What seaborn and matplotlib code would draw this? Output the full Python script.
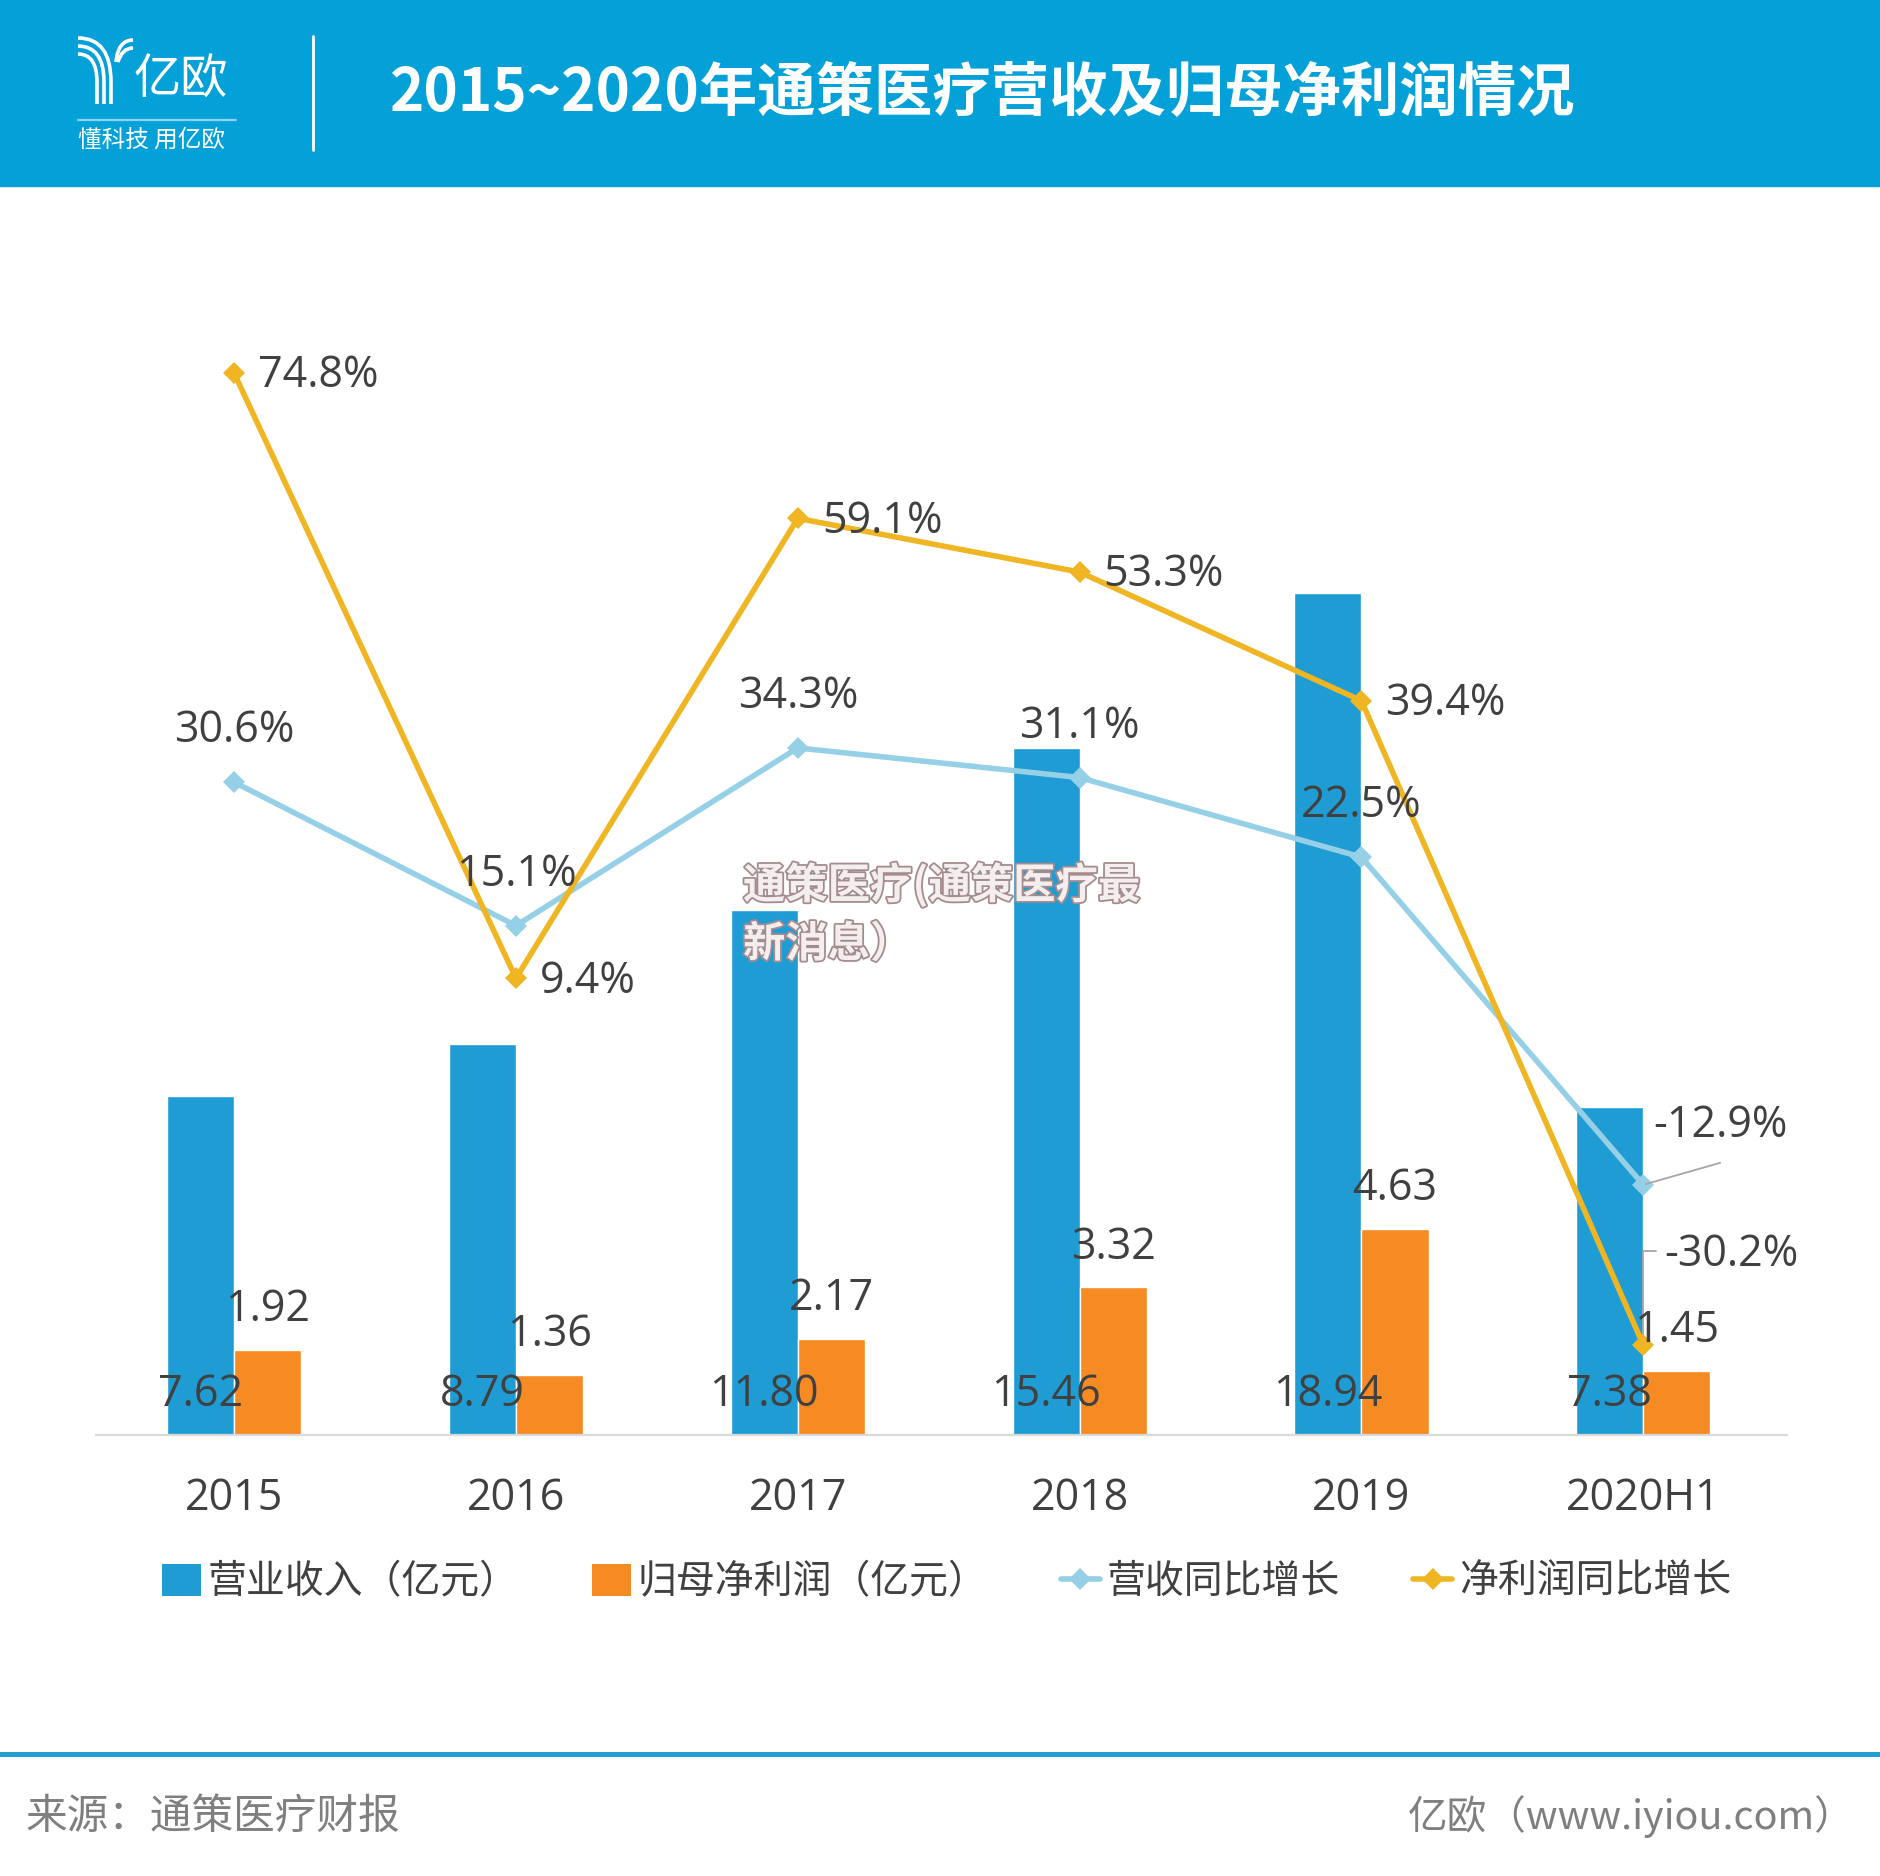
import numpy as np
import pandas as pd
import matplotlib
matplotlib.use('Agg')
import matplotlib.pyplot as plt
import seaborn as sns
from matplotlib.patches import Rectangle, Patch, PathPatch
from matplotlib.lines import Line2D
from matplotlib.path import Path
from matplotlib.transforms import Affine2D
import matplotlib.patheffects as pe

# ---------------- data ----------------
categories = ['2015', '2016', '2017', '2018', '2019', '2020H1']
revenue = [7.62, 8.79, 11.80, 15.46, 18.94, 7.38]
net_profit = [1.92, 1.36, 2.17, 3.32, 4.63, 1.45]
revenue_growth = [30.6, 15.1, 34.3, 31.1, 22.5, -12.9]
profit_growth = [74.8, 9.4, 59.1, 53.3, 39.4, -30.2]
series_names = ['营业收入（亿元）', '归母净利润（亿元）', '营收同比增长', '净利润同比增长']
title = '2015~2020年通策医疗营收及归母净利润情况'
source_text = '来源：通策医疗财报'
credit_text = '亿欧（www.iyiou.com）'
logo_name = '亿欧'
logo_slogan = '懂科技 用亿欧'
watermark_lines = ['通策医疗(通策医疗最', '新消息）']

# ---------------- style ----------------
C_REV = '#1F9CD4'
C_NP = '#F68B24'
C_RG = '#96D0E6'
C_PG = '#F0B522'
C_TXT = '#404040'
C_HEAD = '#04A0D8'

sns.set_style('white')
plt.rcParams['font.family'] = ['Open Sans', 'Noto Sans CJK SC', 'DejaVu Sans']
CJK = ['Noto Sans CJK SC', 'DejaVu Sans']

W, H = 1880, 1876
fig = plt.figure(figsize=(W / 100, H / 100), dpi=100)
fig.patch.set_facecolor('white')
pxT = Affine2D().scale(1 / W, -1 / H).translate(0, 1) + fig.transFigure

# ---------------- header ----------------
fig.patches.append(Rectangle((0, 0), W, 186, transform=pxT, color=C_HEAD, zorder=0))
# logo mark (stylised Y)
for k, xs in enumerate([97, 104, 111]):
    y0 = 54 - 8 * k
    verts = [(78, y0), (xs, y0), (xs, 82), (xs, 104)]
    codes = [Path.MOVETO, Path.CURVE3, Path.CURVE3, Path.LINETO]
    fig.patches.append(PathPatch(Path(verts, codes), transform=pxT, fill=False,
                                 edgecolor='white', lw=2.6, capstyle='butt'))
for k in range(2):
    y0 = 40 + 8 * k
    verts = [(133, y0), (118 + 4 * k, y0), (116 + 2 * k, 62)]
    codes = [Path.MOVETO, Path.CURVE3, Path.CURVE3]
    fig.patches.append(PathPatch(Path(verts, codes), transform=pxT, fill=False,
                                 edgecolor='white', lw=2.6, capstyle='butt'))
fig.text(134, 80, logo_name, transform=pxT, color='white', fontsize=34,
         family=CJK, ha='left', va='center')
fig.add_artist(Line2D([78, 236], [120, 120], transform=pxT, color='#8AD6F2', lw=1.6))
fig.text(78, 140, logo_slogan, transform=pxT, color='white', fontsize=17,
         family=CJK, ha='left', va='center')
fig.add_artist(Line2D([313, 313], [36, 150], transform=pxT, color='white', lw=2))
fig.text(390, 94, title, transform=pxT, color='white', fontsize=42,
         fontweight='bold', family=CJK, ha='left', va='center')

# ---------------- main chart ----------------
ax_left, ax_right, ax_top, ax_bottom = 96, 1787, 300, 1435
ax = fig.add_axes([ax_left / W, 1 - ax_bottom / H, (ax_right - ax_left) / W,
                   (ax_bottom - ax_top) / H])

df_bar = pd.DataFrame({
    'category': categories * 2,
    'value': revenue + net_profit,
    'series': [series_names[0]] * len(categories) + [series_names[1]] * len(categories),
})
sns.barplot(data=df_bar, x='category', y='value', hue='series',
            palette=[C_REV, C_NP], width=0.476, saturation=1,
            errorbar=None, legend=False, ax=ax, zorder=2)

XLIM = (-0.49, 5.51)
ax.set_xlim(*XLIM)
ax.set_ylim(0, (ax_bottom - ax_top) / 44.45)
ax.set_xlabel('')
ax.set_ylabel('')
ax.set_yticks([])
ax.tick_params(axis='x', length=0, pad=30, labelsize=31, colors=C_TXT)
for s in ['top', 'left', 'right']:
    ax.spines[s].set_visible(False)
ax.spines['bottom'].set_color('#D9D9D9')
ax.spines['bottom'].set_linewidth(1.6)

ax2 = ax.twinx()
zero_y = 1065.4
pct_px = 9.256
xpos = np.arange(len(categories))
sns.lineplot(x=xpos, y=revenue_growth, ax=ax2, color=C_RG, lw=4.0,
             marker='D', markersize=11, markeredgewidth=0, zorder=3)
sns.lineplot(x=xpos, y=profit_growth, ax=ax2, color=C_PG, lw=4.0,
             marker='D', markersize=11, markeredgewidth=0, zorder=4)
ax2.set_xlim(*XLIM)
ax2.set_ylim(-(ax_bottom - zero_y) / pct_px, (zero_y - ax_top) / pct_px)
ax2.set_yticks([])
ax2.set_ylabel('')
for s in ['top', 'left', 'right', 'bottom']:
    ax2.spines[s].set_visible(False)

LBL = dict(fontsize=31, color=C_TXT, textcoords='offset pixels', zorder=10)

# bar labels
for p, v in zip(ax.containers[0], revenue):
    x = p.get_x() + p.get_width() / 2
    ax2.annotate(f'{v:.2f}', (x, 0), xycoords=ax.transData, xytext=(0, 40),
                 ha='center', va='center', **LBL)
for p, v in zip(ax.containers[1], net_profit):
    x = p.get_x() + p.get_width() / 2
    ax2.annotate(f'{v:.2f}', (x, v), xycoords=ax.transData, xytext=(0, 40),
                 ha='center', va='center', **LBL)

# growth labels
n = len(categories)
for i, v in enumerate(revenue_growth):
    if i < n - 1:
        ax2.annotate(f'{v:.1f}%', (i, v), xytext=(0, 51), ha='center', va='center', **LBL)
    else:
        ax2.annotate(f'{v:.1f}%', (i, v), xytext=(10, 59), ha='left', va='center', **LBL)
        ax2.annotate('', (i, v), xytext=(77, 22), textcoords='offset pixels',
                     arrowprops=dict(arrowstyle='-', color='#A6A6A6', lw=1.3,
                                     shrinkA=0, shrinkB=2))
for i, v in enumerate(profit_growth):
    if i < n - 1:
        ax2.annotate(f'{v:.1f}%', (i, v), xytext=(24, -3), ha='left', va='center', **LBL)
    else:
        ax2.annotate(f'{v:.1f}%', (i, v), xytext=(21, 90), ha='left', va='center', **LBL)
        ax2.annotate('', (i, v), xytext=(13, 94), textcoords='offset pixels',
                     arrowprops=dict(arrowstyle='-', color='#A6A6A6', lw=1.3,
                                     shrinkA=0, shrinkB=3,
                                     connectionstyle='angle,angleA=0,angleB=90,rad=0'))

# watermark
for j, line in enumerate(watermark_lines):
    fig.text(743, 885 + 60 * j, line, transform=pxT, fontsize=30.5, fontweight='bold',
             family=CJK, color='#F4EEEE', ha='left', va='center', zorder=20,
             path_effects=[pe.withStroke(linewidth=2.6, foreground='#A48C8E')])

# legend
handles = [
    Patch(facecolor=C_REV, edgecolor='none'),
    Patch(facecolor=C_NP, edgecolor='none'),
    Line2D([], [], color=C_RG, lw=4.0, marker='D', markersize=11, markeredgewidth=0),
    Line2D([], [], color=C_PG, lw=4.0, marker='D', markersize=11, markeredgewidth=0),
]
leg = fig.legend(handles, series_names, loc='center', ncol=4,
                 bbox_to_anchor=(946.5 / W, 1 - 1583 / H), frameon=False,
                 fontsize=28, handlelength=1.0, handleheight=0.9,
                 handletextpad=0.18, columnspacing=1.88, borderpad=0)
for t in leg.get_texts():
    t.set_color(C_TXT)

# footer
fig.add_artist(Line2D([0, W], [1754, 1754], transform=pxT, color='#23A0D2', lw=3.6))
fig.text(26, 1817, source_text, transform=pxT, fontsize=30, color='#7F7F7F',
         family=CJK, ha='left', va='center')
fig.text(1855, 1817, credit_text, transform=pxT, fontsize=28.5, color='#7F7F7F',
         family=CJK, ha='right', va='center')

fig.savefig('out.png', dpi=100)
